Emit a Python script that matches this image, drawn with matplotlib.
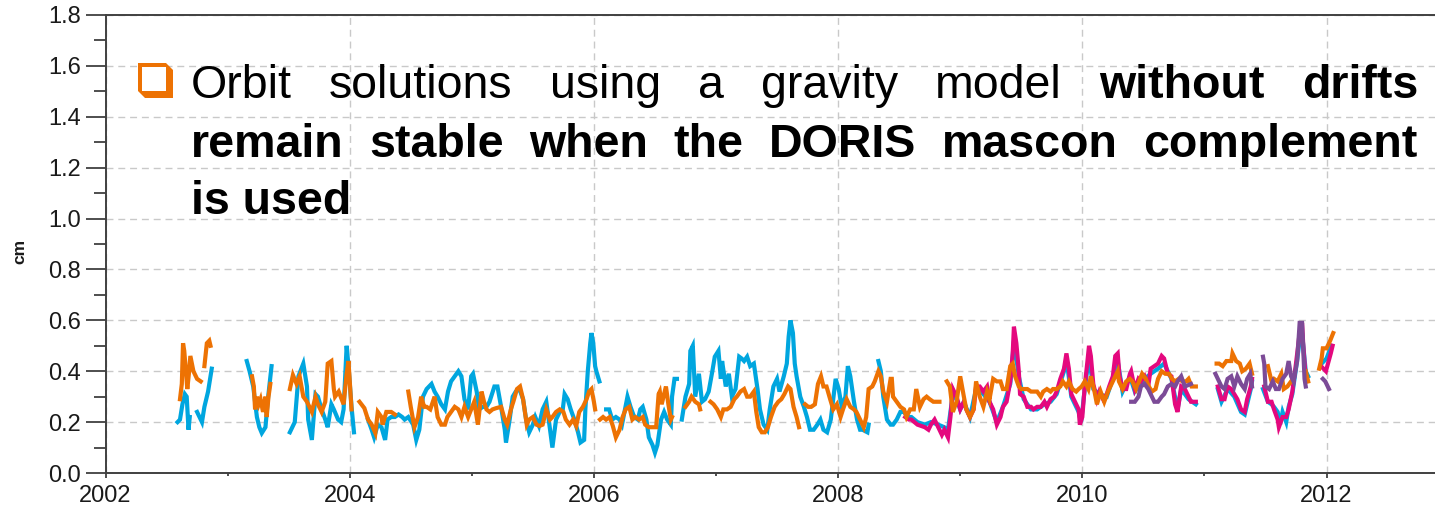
import numpy as np
import matplotlib
matplotlib.use("Agg")
import matplotlib.pyplot as plt
from matplotlib.patches import Polygon, Rectangle
from matplotlib.transforms import IdentityTransform
from matplotlib.ticker import MultipleLocator, FormatStrFormatter

plt.rcParams['font.family'] = ['Liberation Sans', 'DejaVu Sans']

nan = np.nan

# ---------------- data (decimal year, cm) ----------------
cyan_t = [2002.59, 2002.61, 2002.63, 2002.65, 2002.665, 2002.68, 2002.69, nan,
          2002.75, 2002.77, 2002.79, 2002.81, 2002.84, 2002.87, nan,
          2003.157, 2003.18, 2003.21, 2003.24, 2003.26, 2003.28, 2003.31, 2003.33, 2003.36, nan,
          2003.51, 2003.55, 2003.58, 2003.62, 2003.65, 2003.66, 2003.69, 2003.72, 2003.74, 2003.77,
          2003.80, 2003.82, 2003.85, 2003.87, 2003.905, 2003.93, 2003.95, 2003.975, 2003.99, 2004.015,
          2004.035, nan,
          2004.15, 2004.18, 2004.20, 2004.23, 2004.26, 2004.29, 2004.31, 2004.34, 2004.37, 2004.40,
          2004.43, 2004.45, 2004.48, 2004.52, 2004.545, 2004.57, 2004.60, 2004.63, 2004.67, 2004.695,
          2004.72, 2004.75, 2004.78, 2004.805, 2004.83, 2004.86, 2004.89, 2004.915, 2004.94, 2004.97,
          2004.995, 2005.01, 2005.04, 2005.06, 2005.09, 2005.12, 2005.145, 2005.185, 2005.21, 2005.24,
          2005.27, 2005.28, 2005.31, 2005.335, 2005.36, 2005.39, 2005.42, 2005.445, 2005.47, 2005.50,
          2005.52, 2005.55, 2005.58, 2005.61, 2005.63, 2005.66, 2005.69, 2005.72, 2005.745, 2005.76,
          2005.785, 2005.81, 2005.84, 2005.87, 2005.89, 2005.92, 2005.93, 2005.95, 2005.97, 2005.98,
          2005.995, 2006.01, 2006.02, 2006.045, nan,
          2006.10, 2006.125, 2006.15, 2006.18, 2006.21, 2006.23, 2006.275, 2006.30, 2006.33, 2006.36,
          2006.38, 2006.40, 2006.43, 2006.45, 2006.48, 2006.50, 2006.52, 2006.55, 2006.575, 2006.60,
          2006.63, 2006.64, 2006.66, 2006.68, nan,
          2006.72, 2006.75, 2006.78, 2006.79, 2006.81, 2006.83, 2006.86, 2006.885, 2006.91, 2006.94,
          2006.97, 2006.99, 2007.02, 2007.04, 2007.05, 2007.08, 2007.105, 2007.13, 2007.16, 2007.19,
          2007.21, 2007.23, 2007.255, 2007.28, 2007.31, 2007.34, 2007.36, 2007.39, 2007.42, 2007.44,
          2007.47, 2007.50, 2007.52, 2007.555, 2007.58, 2007.595, 2007.61, 2007.63, 2007.645, 2007.66,
          2007.69, 2007.72, 2007.745, 2007.77, 2007.80, 2007.83, 2007.855, 2007.88, 2007.91, 2007.94,
          2007.96, 2007.98, 2008.005, 2008.03, 2008.06, 2008.08, 2008.10, 2008.13, 2008.155, 2008.18,
          2008.20, 2008.24, 2008.25, nan,
          2008.33, 2008.35, 2008.37, 2008.40, 2008.43, 2008.45, 2008.48, 2008.51, 2008.54, 2008.57,
          2008.60, 2008.65, 2008.71, 2008.76, 2008.82, 2008.87, 2008.90, 2008.94, 2008.97, 2009.00,
          2009.03, 2009.08, 2009.13, 2009.19, 2009.24, 2009.30, 2009.35, 2009.41, 2009.44, 2009.48,
          2009.52, 2009.58, 2009.63, 2009.69, 2009.74, 2009.79, 2009.85, 2009.87, 2009.91, 2009.97,
          2009.99, 2010.02, 2010.055, 2010.09, 2010.14, 2010.20, 2010.25, 2010.29, 2010.33, 2010.39,
          2010.43, 2010.51, 2010.56, 2010.62, 2010.67, 2010.73, 2010.78, 2010.81, 2010.87, 2010.93, nan,
          2011.11, 2011.14, 2011.19, 2011.245, 2011.30, 2011.33, 2011.38, 2011.39, nan,
          2011.48, 2011.52, 2011.55, 2011.57, 2011.60, 2011.62, 2011.64, 2011.67, 2011.69, 2011.72,
          2011.75, 2011.78, 2011.80, 2011.83, 2011.85, nan,
          2011.96, 2012.00, 2012.04]
cyan_v = [0.20, 0.21, 0.27, 0.31, 0.30, 0.17, 0.22, nan,
          0.24, 0.22, 0.20, 0.26, 0.32, 0.41, nan,
          0.44, 0.40, 0.34, 0.22, 0.18, 0.157, 0.18, 0.29, 0.42, nan,
          0.16, 0.20, 0.38, 0.43, 0.34, 0.21, 0.13, 0.31, 0.30, 0.25,
          0.21, 0.18, 0.27, 0.25, 0.21, 0.20, 0.25, 0.50, 0.42, 0.26,
          0.16, nan,
          0.21, 0.17, 0.14, 0.19, 0.18, 0.13, 0.21, 0.22, 0.22, 0.23,
          0.22, 0.21, 0.22, 0.19, 0.13, 0.17, 0.30, 0.33, 0.35, 0.32,
          0.30, 0.27, 0.25, 0.32, 0.36, 0.38, 0.40, 0.38, 0.29, 0.25,
          0.38, 0.39, 0.32, 0.25, 0.26, 0.26, 0.28, 0.34, 0.34, 0.26,
          0.17, 0.12, 0.21, 0.30, 0.32, 0.33, 0.29, 0.21, 0.16, 0.19,
          0.22, 0.185, 0.25, 0.28, 0.21, 0.10, 0.21, 0.24, 0.25, 0.31,
          0.29, 0.25, 0.21, 0.16, 0.12, 0.13, 0.25, 0.40, 0.51, 0.55,
          0.51, 0.42, 0.40, 0.36, nan,
          0.25, 0.25, 0.21, 0.22, 0.21, 0.19, 0.30, 0.26, 0.22, 0.21,
          0.25, 0.26, 0.21, 0.14, 0.11, 0.08, 0.11, 0.21, 0.24, 0.21,
          0.19, 0.30, 0.37, 0.37, nan,
          0.21, 0.30, 0.35, 0.48, 0.50, 0.30, 0.39, 0.28, 0.29, 0.32,
          0.40, 0.457, 0.48, 0.37, 0.44, 0.34, 0.39, 0.30, 0.33, 0.457,
          0.45, 0.44, 0.457, 0.42, 0.43, 0.33, 0.25, 0.19, 0.17, 0.25,
          0.34, 0.37, 0.32, 0.38, 0.43, 0.536, 0.60, 0.55, 0.43, 0.38,
          0.30, 0.26, 0.22, 0.17, 0.17, 0.19, 0.21, 0.17, 0.16, 0.21,
          0.29, 0.37, 0.33, 0.26, 0.30, 0.42, 0.38, 0.28, 0.21, 0.17,
          0.17, 0.16, 0.19, nan,
          0.44, 0.40, 0.30, 0.21, 0.19, 0.19, 0.21, 0.24, 0.24, 0.22,
          0.22, 0.20, 0.19, 0.20, 0.19, 0.18, 0.17, 0.31, 0.29, 0.25,
          0.28, 0.22, 0.33, 0.31, 0.28, 0.20, 0.26, 0.35, 0.52, 0.38,
          0.29, 0.25, 0.25, 0.27, 0.28, 0.31, 0.40, 0.45, 0.30, 0.24,
          0.20, 0.33, 0.46, 0.33, 0.31, 0.30, 0.37, 0.44, 0.32, 0.38,
          0.32, 0.37, 0.39, 0.41, 0.43, 0.37, 0.25, 0.33, 0.29, 0.27, nan,
          0.33, 0.28, 0.33, 0.30, 0.24, 0.23, 0.33, 0.36, nan,
          0.33, 0.28, 0.27, 0.26, 0.24, 0.19, 0.24, 0.20, 0.26, 0.31,
          0.41, 0.52, 0.55, 0.40, 0.38, nan,
          0.43, 0.45, 0.50]

magenta_t = [2008.55, 2008.58, 2008.60, 2008.65, 2008.71, 2008.74, 2008.76, 2008.79, 2008.82, 2008.85,
             2008.87, 2008.90, 2008.92, 2008.94, 2008.97, 2009.00, 2009.03, 2009.05, 2009.08, 2009.11,
             2009.13, 2009.16, 2009.19, 2009.22, 2009.24, 2009.27, 2009.30, 2009.33, 2009.35, 2009.38,
             2009.41, 2009.43, 2009.44, 2009.46, 2009.48, 2009.49, 2009.52, 2009.55, 2009.58, 2009.60,
             2009.63, 2009.66, 2009.69, 2009.71, 2009.74, 2009.77, 2009.79, 2009.82, 2009.85, 2009.87,
             2009.89, 2009.91, 2009.94, 2009.97, 2009.98, 2010.00, 2010.02, 2010.04, 2010.055, 2010.07,
             2010.09, 2010.12, 2010.14, 2010.17, 2010.20, 2010.22, 2010.25, 2010.27, 2010.29, 2010.305,
             2010.33, 2010.36, 2010.39, 2010.40, 2010.43, 2010.46, 2010.48, 2010.51, 2010.54, 2010.56,
             2010.59, 2010.62, 2010.65, 2010.67, 2010.70, 2010.73, 2010.76, 2010.78, 2010.81, 2010.84,
             2010.87, 2010.89, 2010.93, nan,
             2011.11, 2011.14, 2011.165, 2011.19, 2011.22, 2011.245, 2011.27, 2011.30, 2011.33, 2011.35,
             2011.38, 2011.39, nan,
             2011.49, 2011.52, 2011.55, 2011.57, 2011.60, 2011.61, 2011.64, 2011.67, 2011.69, 2011.72,
             2011.75, 2011.78, 2011.80, 2011.81, 2011.83, nan,
             2011.955, 2011.995, 2012.035, 2012.05]
magenta_v = [0.22, 0.21, 0.21, 0.19, 0.18, 0.17, 0.19, 0.21, 0.18, 0.15,
             0.17, 0.14, 0.22, 0.33, 0.30, 0.25, 0.28, 0.25, 0.22, 0.25,
             0.34, 0.34, 0.32, 0.34, 0.28, 0.25, 0.19, 0.22, 0.26, 0.28,
             0.36, 0.47, 0.575, 0.51, 0.40, 0.31, 0.30, 0.26, 0.26, 0.25,
             0.26, 0.26, 0.28, 0.26, 0.29, 0.30, 0.32, 0.37, 0.41, 0.47,
             0.41, 0.31, 0.28, 0.25, 0.19, 0.22, 0.34, 0.43, 0.50, 0.46,
             0.35, 0.29, 0.32, 0.29, 0.31, 0.34, 0.38, 0.46, 0.47, 0.38,
             0.33, 0.33, 0.39, 0.40, 0.33, 0.37, 0.36, 0.38, 0.34, 0.41,
             0.42, 0.43, 0.46, 0.45, 0.39, 0.38, 0.27, 0.24, 0.34, 0.33,
             0.30, 0.28, 0.28, nan,
             0.34, 0.29, 0.29, 0.34, 0.33, 0.31, 0.29, 0.25, 0.24, 0.29,
             0.34, 0.37, nan,
             0.34, 0.28, 0.28, 0.25, 0.21, 0.18, 0.22, 0.22, 0.25, 0.32,
             0.43, 0.55, 0.59, 0.50, 0.37, nan,
             0.42, 0.40, 0.47, 0.50]

orange_t = [2002.61, 2002.625, 2002.635, 2002.645, 2002.655, 2002.67, 2002.685, 2002.695, 2002.72, 2002.75,
            2002.78, nan, 2002.81, 2002.83, 2002.85, 2002.86, nan,
            2003.20, 2003.215, 2003.225, 2003.24, 2003.255, 2003.27, 2003.29, 2003.31, 2003.32, 2003.335,
            2003.35, nan,
            2003.51, 2003.535, 2003.565, 2003.59, 2003.62, 2003.65, 2003.69, 2003.72, 2003.74, 2003.77,
            2003.80, 2003.82, 2003.85, 2003.87, 2003.88, 2003.91, 2003.95, 2003.975, 2003.99, 2004.015, nan,
            2004.08, 2004.12, 2004.15, 2004.18, 2004.21, 2004.23, 2004.26, 2004.27, 2004.30, 2004.34,
            2004.37, nan,
            2004.48, 2004.50, 2004.53, 2004.56, 2004.585, 2004.61, 2004.63, 2004.66, 2004.695, 2004.72,
            2004.75, 2004.78, 2004.80, 2004.83, 2004.86, 2004.89, 2004.915, 2004.94, 2004.97, 2004.995,
            2005.02, 2005.05, 2005.08, 2005.10, 2005.12, 2005.145, 2005.17, 2005.20, 2005.24, 2005.27,
            2005.29, 2005.32, 2005.34, 2005.37, 2005.395, 2005.42, 2005.45, 2005.47, 2005.50, 2005.53,
            2005.555, 2005.58, 2005.61, 2005.64, 2005.66, 2005.69, 2005.72, 2005.75, 2005.77, 2005.80,
            2005.83, 2005.855, 2005.88, 2005.91, 2005.94, 2005.96, 2005.98, 2006.00, 2006.01, nan,
            2006.05, 2006.075, 2006.10, 2006.13, 2006.155, 2006.18, 2006.21, 2006.235, 2006.26, 2006.29,
            2006.315, 2006.34, 2006.37, 2006.40, 2006.42, 2006.45, 2006.48, 2006.51, 2006.53, 2006.54,
            2006.555, 2006.575, 2006.59, 2006.61, 2006.63, 2006.64, nan,
            2006.75, 2006.78, 2006.80, 2006.83, 2006.86, 2006.87, nan,
            2006.955, 2006.98, 2007.01, 2007.04, 2007.06, 2007.09, 2007.12, 2007.15, 2007.17, 2007.20,
            2007.23, 2007.255, 2007.28, 2007.31, 2007.33, 2007.35, 2007.375, 2007.40, 2007.425, 2007.45,
            2007.48, 2007.51, 2007.535, 2007.56, 2007.59, 2007.61, 2007.635, 2007.66, 2007.68, nan,
            2007.73, 2007.755, 2007.78, 2007.81, 2007.835, 2007.86, 2007.88, 2007.905, 2007.935, 2007.96,
            2007.99, 2008.02, 2008.04, 2008.07, 2008.10, 2008.13, 2008.15, 2008.18, 2008.21, 2008.23,
            2008.25, 2008.28, 2008.30, 2008.33, 2008.35, 2008.37, 2008.40, 2008.43, 2008.44, 2008.45,
            2008.48, 2008.51, 2008.54, 2008.56, 2008.59, 2008.62, 2008.64, 2008.67, 2008.70, 2008.725,
            2008.75, 2008.78, 2008.81, 2008.83, nan,
            2008.89, 2008.915, 2008.94, 2008.97, 2009.00, 2009.03, 2009.05, 2009.08, 2009.11, 2009.13,
            2009.16, 2009.19, 2009.22, 2009.24, 2009.27, 2009.30, 2009.33, 2009.35, 2009.38, 2009.41,
            2009.43, 2009.45, 2009.48, 2009.50, 2009.525, 2009.55, 2009.58, 2009.60, 2009.63, 2009.66,
            2009.68, 2009.71, 2009.74, 2009.76, 2009.79, 2009.82, 2009.84, 2009.87, 2009.89, 2009.92,
            2009.95, 2009.97, 2009.995, 2010.02, 2010.05, 2010.07, 2010.10, 2010.12, 2010.15, 2010.18,
            2010.21, 2010.23, 2010.26, 2010.29, 2010.30, 2010.33, 2010.36, 2010.39, 2010.41, 2010.44,
            2010.465, 2010.49, 2010.52, 2010.545, 2010.57, 2010.60, 2010.62, 2010.65, 2010.68, 2010.71,
            2010.735, 2010.76, 2010.79, 2010.82, 2010.85, 2010.87, 2010.895, 2010.93, nan,
            2011.10, 2011.12, 2011.15, 2011.18, 2011.22, 2011.23, 2011.26, 2011.29, 2011.31, 2011.34,
            2011.37, 2011.39, nan,
            2011.52, 2011.55, 2011.57, 2011.60, 2011.63, 2011.65, 2011.68, 2011.71, nan,
            2011.83, 2011.85, nan,
            2011.94, 2011.96, 2011.97, 2012.00, 2012.03, 2012.055]
orange_v = [0.29, 0.35, 0.51, 0.48, 0.42, 0.33, 0.40, 0.46, 0.40, 0.37,
            0.36, nan, 0.42, 0.51, 0.52, 0.50, nan,
            0.38, 0.34, 0.25, 0.30, 0.27, 0.29, 0.24, 0.30, 0.22, 0.30,
            0.35, nan,
            0.33, 0.385, 0.35, 0.38, 0.30, 0.28, 0.24, 0.30, 0.27, 0.24,
            0.28, 0.43, 0.44, 0.33, 0.30, 0.32, 0.27, 0.39, 0.44, 0.25, nan,
            0.28, 0.255, 0.21, 0.19, 0.157, 0.24, 0.22, 0.19, 0.24, 0.24,
            0.23, nan,
            0.32, 0.26, 0.18, 0.22, 0.30, 0.26, 0.26, 0.25, 0.30, 0.22,
            0.19, 0.19, 0.22, 0.24, 0.26, 0.25, 0.22, 0.26, 0.22, 0.25,
            0.28, 0.19, 0.32, 0.28, 0.25, 0.24, 0.25, 0.255, 0.26, 0.21,
            0.19, 0.25, 0.28, 0.33, 0.34, 0.29, 0.19, 0.21, 0.22, 0.19,
            0.185, 0.19, 0.25, 0.21, 0.22, 0.24, 0.25, 0.24, 0.21, 0.19,
            0.21, 0.185, 0.24, 0.26, 0.29, 0.32, 0.33, 0.28, 0.25, nan,
            0.21, 0.22, 0.21, 0.22, 0.185, 0.14, 0.17, 0.22, 0.25, 0.26,
            0.21, 0.22, 0.21, 0.22, 0.19, 0.18, 0.18, 0.18, 0.31, 0.32,
            0.27, 0.31, 0.34, 0.27, 0.21, 0.22, nan,
            0.26, 0.28, 0.30, 0.28, 0.27, 0.25, nan,
            0.28, 0.27, 0.25, 0.22, 0.25, 0.25, 0.26, 0.29, 0.30, 0.32,
            0.33, 0.30, 0.30, 0.32, 0.24, 0.18, 0.16, 0.16, 0.18, 0.22,
            0.26, 0.28, 0.29, 0.31, 0.34, 0.33, 0.26, 0.22, 0.18, nan,
            0.27, 0.26, 0.26, 0.27, 0.35, 0.38, 0.34, 0.34, 0.29, 0.25,
            0.27, 0.22, 0.25, 0.29, 0.26, 0.25, 0.24, 0.21, 0.18, 0.22,
            0.33, 0.34, 0.36, 0.40, 0.38, 0.32, 0.28, 0.37, 0.37, 0.30,
            0.28, 0.26, 0.25, 0.22, 0.25, 0.25, 0.33, 0.26, 0.29, 0.30,
            0.29, 0.28, 0.28, 0.28, nan,
            0.36, 0.34, 0.24, 0.28, 0.38, 0.30, 0.25, 0.22, 0.25, 0.36,
            0.30, 0.26, 0.32, 0.29, 0.37, 0.36, 0.36, 0.33, 0.33, 0.42,
            0.43, 0.38, 0.34, 0.33, 0.33, 0.33, 0.32, 0.32, 0.32, 0.30,
            0.32, 0.33, 0.32, 0.33, 0.33, 0.34, 0.36, 0.34, 0.36, 0.33,
            0.32, 0.33, 0.34, 0.36, 0.33, 0.38, 0.32, 0.27, 0.32, 0.28,
            0.32, 0.34, 0.37, 0.40, 0.36, 0.33, 0.36, 0.37, 0.36, 0.33,
            0.36, 0.39, 0.37, 0.34, 0.32, 0.33, 0.37, 0.40, 0.39, 0.39,
            0.37, 0.36, 0.37, 0.36, 0.36, 0.37, 0.34, 0.34, nan,
            0.43, 0.43, 0.42, 0.44, 0.44, 0.47, 0.44, 0.43, 0.40, 0.41,
            0.43, 0.39, nan,
            0.42, 0.36, 0.37, 0.36, 0.39, 0.33, 0.34, 0.36, nan,
            0.40, 0.36, nan,
            0.41, 0.45, 0.49, 0.49, 0.52, 0.55]

purple_t = [2010.40, 2010.43, 2010.46, 2010.48, 2010.51, 2010.54, 2010.56, 2010.59, 2010.62, 2010.65,
            2010.67, 2010.70, 2010.73, 2010.76, 2010.78, 2010.81, 2010.84, 2010.89, nan,
            2011.09, 2011.11, 2011.14, 2011.165, 2011.19, 2011.22, 2011.245, 2011.27, 2011.30, 2011.33,
            2011.35, 2011.375, 2011.39, nan,
            2011.48, 2011.49, 2011.50, 2011.53, 2011.56, 2011.585, 2011.61, 2011.64, 2011.67, 2011.69,
            2011.71, 2011.73, 2011.76, 2011.78, 2011.80, 2011.82, 2011.83, nan,
            2011.97, 2011.99, 2012.02]
purple_v = [0.28, 0.28, 0.30, 0.34, 0.35, 0.33, 0.31, 0.28, 0.28, 0.30,
            0.31, 0.34, 0.35, 0.34, 0.36, 0.38, 0.34, 0.35, nan,
            0.39, 0.37, 0.34, 0.33, 0.37, 0.38, 0.34, 0.38, 0.35, 0.33,
            0.37, 0.39, 0.34, nan,
            0.457, 0.43, 0.34, 0.33, 0.36, 0.33, 0.33, 0.37, 0.39, 0.44,
            0.38, 0.36, 0.44, 0.59, 0.59, 0.37, 0.34, nan,
            0.37, 0.36, 0.33]

x_ticks = [2002, 2004, 2006, 2008, 2010, 2012]
y_ticks = [0.0, 0.2, 0.4, 0.6, 0.8, 1.0, 1.2, 1.4, 1.6, 1.8]

C_CYAN = '#00a6df'
C_MAGENTA = '#e4087e'
C_ORANGE = '#ed7203'
C_PURPLE = '#7c4b97'

W, H = 1435, 507
fig = plt.figure(figsize=(W / 100, H / 100), dpi=100)
fig.patch.set_facecolor('white')

px_per_year = 122.1
ax = fig.add_axes([105.5 / W, 34 / H, px_per_year * 11 / W, 458 / H])
ax.set_xlim(2002, 2013)
ax.set_ylim(0, 1.8)

lw = 3.0
ax.plot(cyan_t, cyan_v, color=C_CYAN, lw=lw, solid_joinstyle='miter', zorder=3)
ax.plot(magenta_t, magenta_v, color=C_MAGENTA, lw=lw, solid_joinstyle='miter', zorder=4)
ax.plot(orange_t, orange_v, color=C_ORANGE, lw=lw, solid_joinstyle='miter', zorder=5)
ax.plot(purple_t, purple_v, color=C_PURPLE, lw=lw, solid_joinstyle='miter', zorder=6)

ax.set_xticks(x_ticks)
ax.set_yticks(y_ticks)
ax.yaxis.set_major_formatter(FormatStrFormatter('%.1f'))
ax.xaxis.set_minor_locator(MultipleLocator(1))
ax.yaxis.set_minor_locator(MultipleLocator(0.1))

tick_color = '#404040'
lab_color = '#1a1a1a'
ax.tick_params(axis='y', which='major', direction='out', length=14.4, width=1.3,
               color=tick_color, labelsize=17, labelcolor=lab_color, pad=3.4)
ax.tick_params(axis='y', which='minor', direction='out', length=8.6, width=1.3, color=tick_color)
ax.tick_params(axis='x', which='major', direction='out', length=3.6, width=1.3,
               color=tick_color, labelsize=17, labelcolor=lab_color, pad=5.0)
ax.tick_params(axis='x', which='minor', direction='out', length=2.2, width=1.3, color=tick_color)

for s in ['left', 'bottom', 'top']:
    ax.spines[s].set_color(tick_color)
    ax.spines[s].set_linewidth(1.4)
ax.spines['right'].set_visible(False)

ax.grid(True, which='major', color='#c9c9c9', lw=1.0, ls=(0, (5, 3.5)), zorder=0)
ax.set_axisbelow(True)

fig.text(20 / W, (H - 251) / H, 'cm', rotation=90, ha='center', va='center',
         fontsize=12.5, fontweight='bold', color=lab_color)

# ---------------- justified bullet text ----------------
fs = 33.5
lines = [
    [("Orbit", 'normal'), ("solutions", 'normal'), ("using", 'normal'), ("a", 'normal'),
     ("gravity", 'normal'), ("model", 'normal'), ("without", 'bold'), ("drifts", 'bold')],
    [("remain", 'bold'), ("stable", 'bold'), ("when", 'bold'), ("the", 'bold'),
     ("DORIS", 'bold'), ("mascon", 'bold'), ("complement", 'bold')],
    [("is used", 'bold')],
]
baselines = [97.5, 156.8, 214.0]
x0, x1 = 191.0, 1418.0
justify = [True, True, False]

fig.canvas.draw()
renderer = fig.canvas.get_renderer()
for words, yb, just in zip(lines, baselines, justify):
    texts = []
    for w, wt in words:
        t = fig.text(0, 0, w, fontsize=fs, fontweight=wt, color='black',
                     transform=IdentityTransform(), ha='left', va='baseline')
        texts.append(t)
    widths = [t.get_window_extent(renderer).width for t in texts]
    if just and len(texts) > 1:
        gap = (x1 - x0 - sum(widths)) / (len(texts) - 1)
    else:
        gap = 12.0
    x = x0
    for t, wd in zip(texts, widths):
        t.set_position((x, H - yb))
        x += wd + gap

# hollow square bullet with bevelled shadow
def P(x, y):
    return (x, H - y)

outer = Polygon([P(138, 63), P(166, 63), P(173, 70), P(173, 98), P(145, 98), P(138, 91)],
                closed=True, facecolor=C_ORANGE, edgecolor='none', transform=IdentityTransform())
inner = Rectangle(P(142, 91), 24, 24, facecolor='white', edgecolor='none',
                  transform=IdentityTransform())
fig.add_artist(outer)
fig.add_artist(inner)

fig.savefig('out.png', dpi=100, facecolor='white')
